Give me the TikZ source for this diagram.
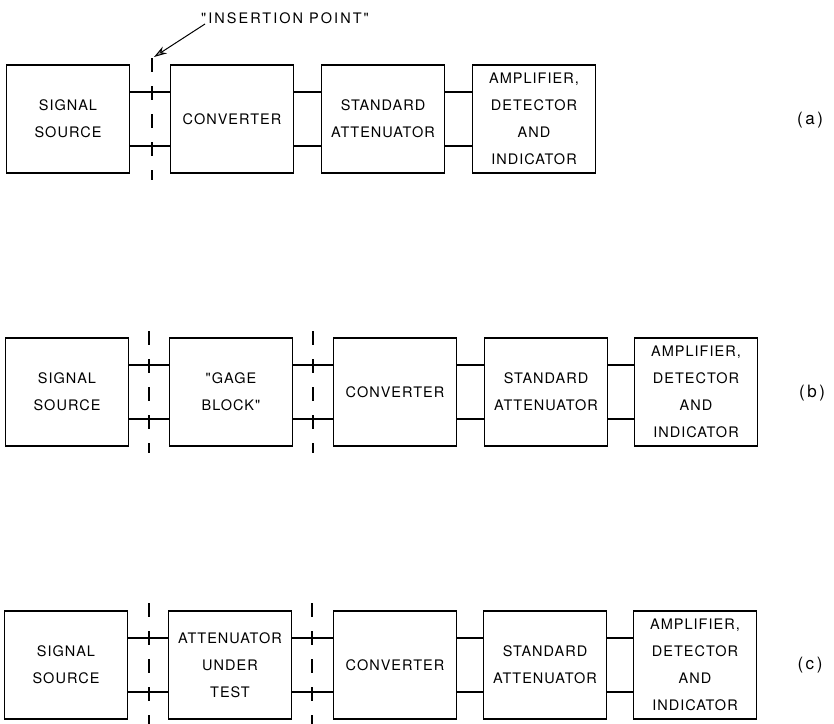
\documentclass[tikz,border=0pt]{standalone}
\usepackage{fontspec}
\setsansfont{TeX Gyre Heros}[LetterSpace=7, Ligatures=TeXOff]
\usetikzlibrary{arrows.meta}
\begin{document}
\begin{tikzpicture}[x=1pt, y=-1pt,
          every node/.style={font=\sffamily\fontsize{14.5}{27}\selectfont, align=center},
          block/.style={draw, line width=1.8pt, minimum width=123pt, minimum height=108pt, inner sep=0pt},
          wire/.style={line width=1.8pt},
          cut/.style={line width=1.8pt, dash pattern=on 14pt off 14pt},
          tag/.style={font=\sffamily\addfontfeature{LetterSpace=15}\fontsize{17}{18}\selectfont},
          >={Stealth[length=13pt, width=8pt, fill=gray!70]}
        ]
        \useasboundingbox (0,0) rectangle (834,723);

        % (a)
        \node[block] (srcA) at (68,119) {SIGNAL\\SOURCE};
        \node[block] (convA) at (232,119) {CONVERTER};
        \node[block] (stdA) at (383,119) {STANDARD\\ATTENUATOR};
        \node[block] (ampA) at (534,119) {AMPLIFIER,\\DETECTOR\\AND\\INDICATOR};
        \node[tag] (labA) at (810,120) {(a)};
        \draw[cut] (152,58) -- (152,180);
        \node[font=\sffamily\addfontfeature{LetterSpace=14}\fontsize{14.5}{27}\selectfont] (insA) at (285,18) {"INSERTION POINT"};
        \coordinate (tailA) at (205,24);
        \coordinate (tipA) at (154,57);
        \draw[->, line width=1pt] (tailA) -- (tipA);

        % (b)
        \node[block] (srcB) at (67,392) {SIGNAL\\SOURCE};
        \node[block] (gageB) at (231,392) {"GAGE\\BLOCK"};
        \node[block] (convB) at (395,392) {CONVERTER};
        \node[block] (stdB) at (546,392) {STANDARD\\ATTENUATOR};
        \node[block] (ampB) at (696,392) {AMPLIFIER,\\DETECTOR\\AND\\INDICATOR};
        \node[tag] (labB) at (812,393) {(b)};
        \draw[cut] (149,331) -- (149,453);
        \draw[cut] (313,331) -- (313,453);

        % (c)
        \node[block] (srcC) at (66,665) {SIGNAL\\SOURCE};
        \node[block] (autC) at (230,665) {ATTENUATOR\\UNDER\\TEST};
        \node[block] (convC) at (395,665) {CONVERTER};
        \node[block] (stdC) at (545,665) {STANDARD\\ATTENUATOR};
        \node[block] (ampC) at (695,665) {AMPLIFIER,\\DETECTOR\\AND\\INDICATOR};
        \node[tag] (labC) at (810,665) {(c)};
        \draw[cut] (149,603) -- (149,730);
        \draw[cut] (312,603) -- (312,730);

        % two-wire links
        \foreach \p/\q in {srcA/convA, convA/stdA, stdA/ampA,
                           srcB/gageB, gageB/convB, convB/stdB, stdB/ampB,
                           srcC/autC, autC/convC, convC/stdC, stdC/ampC}
          \draw[wire] ([yshift=27pt]\p.east) -- ([yshift=27pt]\q.west)
                      ([yshift=-27pt]\p.east) -- ([yshift=-27pt]\q.west);
        \end{tikzpicture}
\end{document}
